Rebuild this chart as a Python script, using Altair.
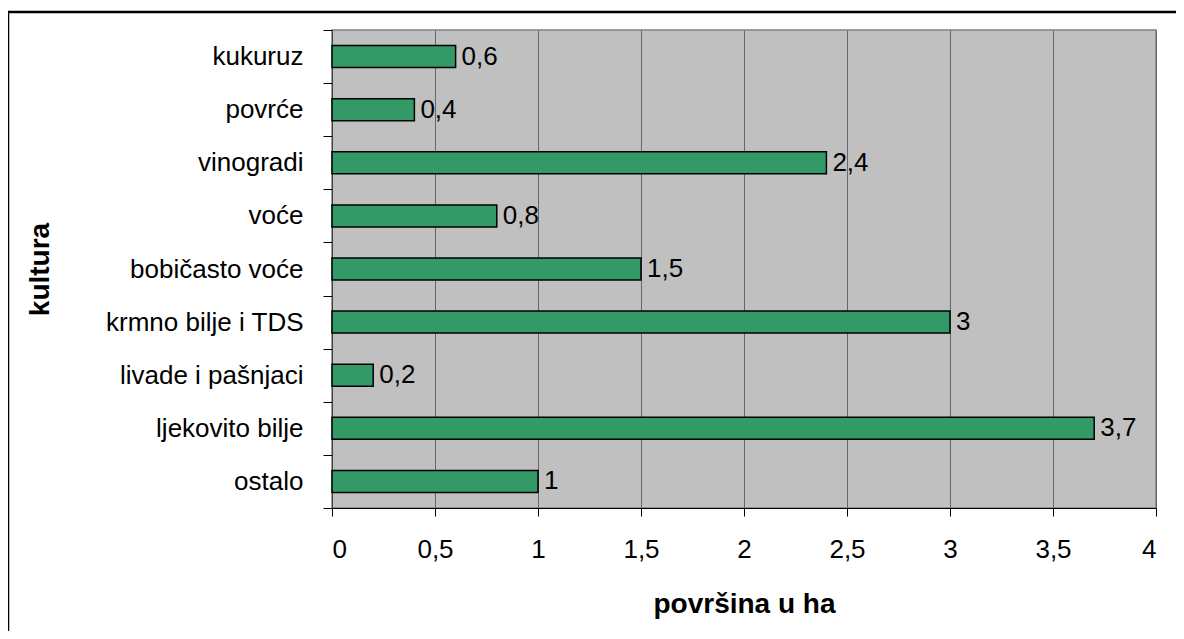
import altair as alt
import pandas as pd

categories = ["kukuruz", "povrće", "vinogradi", "voće", "bobičasto voće",
              "krmno bilje i TDS", "livade i pašnjaci", "ljekovito bilje", "ostalo"]
values = [0.6, 0.4, 2.4, 0.8, 1.5, 3, 0.2, 3.7, 1]
labels = ["0,6", "0,4", "2,4", "0,8", "1,5", "3", "0,2", "3,7", "1"]

df = pd.DataFrame({"kultura": categories, "v": values, "lab": labels})

W, H = 824, 478
FONT = "Liberation Sans"
FS = 26
TFS = 28

y_enc = alt.Y("kultura:N", sort=categories,
              scale=alt.Scale(paddingInner=0, paddingOuter=0),
              axis=alt.Axis(title="kultura", tickBand="extent", tickSize=9,
                            tickColor="black", domainColor="#404040",
                            labelFontSize=FS, labelFont=FONT, labelColor="black",
                            labelPadding=20, labelLimit=400, titleFontSize=TFS, titleFont=FONT,
                            titleFontWeight="bold", titleColor="black",
                            titleX=-292, titleBaseline="middle"))
x_enc = alt.X("v:Q", scale=alt.Scale(domain=[0, 4], nice=False),
              axis=alt.Axis(title="površina u ha", values=[0, 0.5, 1, 1.5, 2, 2.5, 3, 3.5, 4],
                            labelExpr="replace(toString(datum.value), '.', ',')",
                            tickSize=8, tickColor="black", domainColor="black",
                            grid=True, gridColor="#666666", gridWidth=1,
                            labelFontSize=FS, labelFont=FONT, labelColor="black",
                            labelPadding=20, titleFontSize=TFS, titleFont=FONT,
                            titleFontWeight="bold", titleColor="black",
                            titleY=96, titleBaseline="middle"))

bars = alt.Chart(df).mark_bar(height=22, color="#339966", stroke="black",
                              strokeWidth=1.5).encode(y=y_enc, x=x_enc)
text = alt.Chart(df).mark_text(align="left", baseline="middle", dx=6, fontSize=FS,
                               font=FONT, color="black").encode(
    y=alt.Y("kultura:N", sort=categories), x="v:Q", text="lab:N")

frame = alt.Chart(pd.DataFrame({"f": [0]})).mark_rect(
    fill=None, stroke="black", strokeWidth=2.5).encode(
    x=alt.value(-324), x2=alt.value(880), y=alt.value(-18), y2=alt.value(650))

chart = alt.layer(bars, text, frame).properties(
    width=W, height=H,
    autosize=alt.AutoSizeParams(type="none"),
    padding={"left": 324, "top": 22, "right": 20, "bottom": 123},
    background="white",
).configure_view(fill="#C0C0C0", stroke="#808080", strokeWidth=1.5)

chart.save("out.html", embed_options={"renderer": "svg", "actions": False})
